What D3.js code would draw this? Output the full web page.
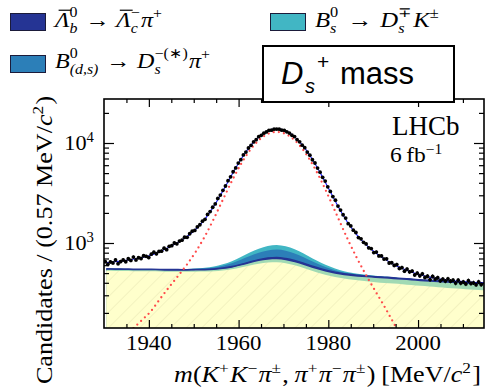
<!DOCTYPE html>
<html><head><meta charset="utf-8">
<script src="https://cdn.jsdelivr.net/npm/d3@7"></script>
<style>
html,body{margin:0;padding:0;background:#fff;}
svg{display:block;}
text{font-family:"Liberation Serif","Times New Roman",serif;fill:#000;}
</style></head><body>
<svg id="c" width="487" height="389"></svg>
<script>
// ---------------- DATA ----------------
const massGrid = [1930.5,1932.5,1934.5,1936.5,1938.5,1940.5,1942.5,1944.5,1946.5,1948.5,
  1950.5,1952.5,1954.5,1956.5,1958.5,1960.5,1962.5,1964.5,1966.5,1968.5,
  1970.5,1972.5,1974.5,1976.5,1978.5,1980.5,1982.5,1984.5,1986.5,1988.5,
  1990.5,1992.5,1994.5,1996.5,1998.5,2000.5,2002.5,2004.5,2006.5,2008.5,
  2010.5,2012.5,2014.5,2016.5];
// combinatorial background (yellow, hatched)
const combBkg = [527,526,524,523,521,521,520,517,517,516,
  517,518,522,532,547,569,596,621,638,642,
  627,599,563,525,493,468,448,434,423,414,
  406,399,393,387,380,373,367,361,355,350,
  345,340,336,332];
// other background (pale green)
const otherBkg = [12,12,12,12,12,12,12,12,12,12,
  13,14,15,16,19,25,31,38,43,46,
  45,43,41,38,37,36,36,36,38,40,
  41,42,42,41,42,42,43,45,46,47,
  47,48,48,49];
// Lambda_b -> Lambda_c pi
const lbBkg = [14,14,14,14,14,14,14,14,14,14,
  14,14,15,15,16,18,21,24,27,30,
  29,28,26,23,21,19,18,17,16,15,
  15,15,15,15,15,15,15,15,14,14,
  14,14,14,14];
// B0(d,s) -> Ds(*) pi
const b0Bkg = [0,0,0,0,0,0,1,2,3,5,
  8,12,18,30,45,67,92,116,135,142,
  135,116,92,67,45,30,18,12,8,5,
  3,2,1,0,0,0,0,0,0,0,
  0,0,0,0];
// Bs -> Ds K
const bsBkg = [0,0,0,0,0,0,0,1,2,3,
  5,8,12,20,30,45,62,78,90,95,
  90,78,63,47,35,25,17,12,9,7,
  5,4,3,2,1,0,0,0,0,0,
  0,0,0,0];
// Ds signal peak (red dotted)
const dsSignal = [81,97,116,140,170,209,276,361,467,610,
  823,1170,1754,2709,4160,6115,8411,10643,12294,12900,
  12294,10643,8398,6089,4115,2632,1651,1047,689,470,
  329,232,160,110,74,48,31,18,11,6.5,
  3.7,2.1,1.1,0.6];
// data (bins of 0.57 MeV starting at 1930)
const binLow = 1930, binWidth = 0.57;
const dataCounts = [651,612,647,632,676,621,652,677,650,696,
  669,724,677,713,700,746,735,716,773,809,
  781,823,829,887,858,927,940,1000,981,1046,
  1067,1142,1140,1237,1314,1337,1449,1522,1654,1723,
  1932,2063,2278,2459,2793,3016,3360,3717,4202,4584,
  5161,5629,6294,6805,7591,8110,8913,9488,10244,10797,
  11567,11938,12546,12905,13379,13423,13738,13781,13748,13432,
  13387,12933,12572,11960,11590,10826,10268,9507,8973,8119,
  7557,6803,6309,5608,5108,4539,4165,3649,3280,2915,
  2680,2338,2136,1917,1774,1561,1481,1345,1274,1134,
  1102,1015,978,895,879,802,812,743,743,691,
  694,631,635,596,609,557,568,523,549,515,
  524,479,499,470,492,453,465,431,464,436,
  449,419,436,416,438,415,425,397,424,397,
  408,390,420,394,400,383,409,384];
const xMajorTicks = [1940,1960,1980,2000];
const xMinorTicks = [1935,1945,1950,1955,1965,1970,1975,1985,1990,1995,2005,2010];
const yMajorTicks = [1e3,1e4];
const yMajorExp = ["3","4"];
const yMinorTicks = [200,300,400,500,600,700,800,900,2000,3000,4000,5000,6000,7000,8000,9000,20000];

// ---------------- LAYOUT ----------------
const SERIF = "'Liberation Serif','Times New Roman',serif";
const SANS = "'Liberation Sans',Arial,sans-serif";
const M = {l:104, r:484, t:99, b:328};
const svg = d3.select("#c");
const x = d3.scaleLinear().domain([1930, 2014.7]).range([M.l, M.r]);
const y = d3.scaleLog().domain([141.25, 27542]).range([M.b, M.t]);

const defs = svg.append("defs");
defs.append("clipPath").attr("id","plotclip").append("rect")
  .attr("x",M.l).attr("y",M.t).attr("width",M.r-M.l).attr("height",M.b-M.t);
const pat = defs.append("pattern").attr("id","hatch").attr("patternUnits","userSpaceOnUse")
  .attr("width",11).attr("height",11).attr("patternTransform","rotate(45)");
pat.append("rect").attr("width",11).attr("height",11).attr("fill","#ffffcc");
pat.append("line").attr("x1",0).attr("y1",0).attr("x2",0).attr("y2",11)
  .attr("stroke","#e4e2b0").attr("stroke-width",0.9);

const plot = svg.append("g").attr("clip-path","url(#plotclip)");

// stacked components
const layers = [combBkg, otherBkg, lbBkg, b0Bkg, bsBkg];
const fills = ["url(#hatch)", "#a1dab4", "#253494", "#2c7fb8", "#41b6c4"];
const cum = [];
layers.forEach((arr,i) => {
  cum.push(arr.map((v,j) => v + (i>0 ? cum[i-1][j] : 0)));
});
const curve = d3.curveMonotoneX;
for (let i = layers.length-1; i >= 0; i--) {
  const pts = massGrid.map((m,j) => ({m, v: cum[i][j]}));
  plot.append("path").datum(pts)
    .attr("d", d3.area().x(d=>x(d.m)).y0(M.b).y1(d=>y(d.v)).curve(curve))
    .attr("fill", fills[i]).attr("stroke","none");
}
// navy edge
plot.append("path").datum(massGrid.map((m,j)=>({m, v: cum[2][j]})))
  .attr("d", d3.line().x(d=>x(d.m)).y(d=>y(d.v)).curve(curve))
  .attr("fill","none").attr("stroke","#253494").attr("stroke-width",1.3);

// signal (red dotted)
plot.append("path").datum(massGrid.map((m,j)=>({m, v: dsSignal[j]})).filter(d=>d.v>60))
  .attr("d", d3.line().x(d=>x(d.m)).y(d=>y(d.v)).curve(curve))
  .attr("fill","none").attr("stroke","#ff4a4a").attr("stroke-width",2.3)
  .attr("stroke-linecap","round").attr("stroke-dasharray","0,5.2");

// total fit
const total = massGrid.map((m,j)=>({m, v: dsSignal[j] + cum[4][j]}));
plot.append("path").datum(total)
  .attr("d", d3.line().x(d=>x(d.m)).y(d=>y(d.v)).curve(curve))
  .attr("fill","none").attr("stroke","#1a1aff").attr("stroke-width",1.1);

// data points
const pts = dataCounts.map((c,i)=>({m: binLow + binWidth*(i+0.5), v: c}));
plot.append("g").selectAll("line").data(pts).join("line")
  .attr("x1",d=>x(d.m)).attr("x2",d=>x(d.m))
  .attr("y1",d=>y(d.v+Math.sqrt(d.v))).attr("y2",d=>y(d.v-Math.sqrt(d.v)))
  .attr("stroke","#000").attr("stroke-width",1);
plot.append("g").selectAll("circle").data(pts).join("circle")
  .attr("cx",d=>x(d.m)).attr("cy",d=>y(d.v)).attr("r",1.9).attr("fill","#000");

// frame
svg.append("rect").attr("x",M.l).attr("y",M.t).attr("width",M.r-M.l).attr("height",M.b-M.t)
  .attr("fill","none").attr("stroke","#000").attr("stroke-width",1.6);

// ticks
function ticks(axisFn, scale, vals, size, tr) {
  const g = svg.append("g").attr("transform", tr)
    .call(axisFn(scale).tickValues(vals).tickSizeInner(-size).tickSizeOuter(0).tickFormat(""));
  g.select(".domain").remove();
  g.selectAll(".tick line").attr("stroke","#000").attr("stroke-width",1.2);
  return g;
}
ticks(d3.axisBottom, x, xMajorTicks, 8, `translate(0,${M.b})`);
ticks(d3.axisBottom, x, xMinorTicks, 4, `translate(0,${M.b})`);
ticks(d3.axisTop, x, xMajorTicks, 8, `translate(0,${M.t})`);
ticks(d3.axisTop, x, xMinorTicks, 4, `translate(0,${M.t})`);
ticks(d3.axisLeft, y, yMajorTicks, 10, `translate(${M.l},0)`);
ticks(d3.axisLeft, y, yMinorTicks, 5, `translate(${M.l},0)`);
ticks(d3.axisRight, y, yMajorTicks, 10, `translate(${M.r},0)`);
ticks(d3.axisRight, y, yMinorTicks, 5, `translate(${M.r},0)`);

// x tick labels
svg.append("g").selectAll("text").data(xMajorTicks).join("text")
  .attr("transform",d=>`translate(${x(d)},${M.b+22}) scale(1.06,1)`).attr("text-anchor","middle")
  .attr("font-size",21.5).style("font-family",SERIF).text(d=>d);

// math text helper (stretch mimics the wider LaTeX font)
function mathLine(parent, items, size, stretch) {
  stretch = stretch || 1.12;
  const outer = parent.append("g");
  const g = outer.append("g").attr("transform",`scale(${stretch},1)`);
  let cx = 0;
  const ss = size*0.66;
  items.forEach(it => {
    if (it.sp !== undefined) { cx += it.sp; return; }
    if (it.t !== undefined) {
      const t = g.append("text").attr("x",cx).attr("y",0).attr("font-size",size)
        .attr("font-style", it.i ? "italic" : "normal").style("font-family",SERIF).text(it.t);
      const w = t.node().getComputedTextLength();
      if (it.over) g.append("line").attr("x1",cx+size*0.15).attr("x2",cx+w+size*0.08)
        .attr("y1",-size*0.78).attr("y2",-size*0.78).attr("stroke","#000").attr("stroke-width",size*0.055);
      cx += w;
    } else {
      let w = 0;
      const both = it.sup !== undefined && it.sub !== undefined;
      if (it.sup !== undefined) {
        const t = g.append("text").attr("x",cx).attr("y",-size*(both?0.47:0.40))
          .attr("font-size",ss).attr("font-style",it.supI?"italic":"normal").style("font-family",SERIF).text(it.sup);
        w = Math.max(w, t.node().getComputedTextLength());
      }
      if (it.sub !== undefined) {
        const t = g.append("text").attr("x",cx).attr("y",size*0.30)
          .attr("font-size",ss).attr("font-style",it.subI?"italic":"normal").style("font-family",SERIF).text(it.sub);
        w = Math.max(w, t.node().getComputedTextLength());
      }
      cx += w + size*0.05;
    }
  });
  return {g: outer, width: cx*stretch};
}

// y tick labels
yMajorTicks.forEach((v,i) => {
  const ml = mathLine(svg, [{t:"10"},{sup:yMajorExp[i]}], 21, 1.06);
  ml.g.attr("transform", `translate(${95-ml.width},${y(v)+7})`);
});

// x title
{
  const ml = mathLine(svg, [{t:"m",i:1},{t:"("},{t:"K",i:1},{sup:"+"},{t:"K",i:1},{sup:"−"},
    {t:"π",i:1},{sup:"±"},{t:","},{sp:5},{t:"π",i:1},{sup:"+"},{t:"π",i:1},{sup:"−"},{t:"π",i:1},{sup:"±"},
    {t:")"},{sp:5},{t:"[MeV/"},{t:"c",i:1},{sup:"2"},{t:"]"}], 22.5, 1.16);
  ml.g.attr("transform", `translate(${481-ml.width},382)`);
}
// y title
{
  const ml = mathLine(svg, [{t:"Candidates / (0.57 MeV/"},{t:"c",i:1},{sup:"2"},{t:")"}], 22.5, 1.16);
  ml.g.attr("transform", `translate(52,${240+ml.width/2}) rotate(-90)`);
}

// LHCb labels
svg.append("text").attr("x",392).attr("y",135).attr("font-size",27).style("font-family",SERIF).text("LHCb");
{
  const ml = mathLine(svg, [{t:"6"},{sp:4},{t:"fb"},{sup:"−1"}], 21, 1.12);
  ml.g.attr("transform","translate(390,162)");
}

// legend
const legend = svg.append("g");
function swatch(xx, yy, col) {
  legend.append("rect").attr("x",xx).attr("y",yy).attr("width",35).attr("height",17)
    .attr("fill",col).attr("stroke","#1b1b3a").attr("stroke-width",1);
}
swatch(10.5,13.5,"#253494");
swatch(10.5,55.5,"#2c7fb8");
swatch(270.5,13.5,"#41b6c4");
{
  const a = mathLine(legend, [{t:"Λ",i:1,over:1},{sup:"0",sub:"b",subI:1},{sp:6},{t:"→"},{sp:6},
    {t:"Λ",i:1,over:1},{sup:"−",sub:"c",subI:1},{t:"π",i:1},{sup:"+"}], 21.5, 1.12);
  a.g.attr("transform","translate(55,27)");
  const b = mathLine(legend, [{t:"B",i:1},{sup:"0",sub:"(d,s)",subI:1},{sp:6},{t:"→"},{sp:6},
    {t:"D",i:1},{sup:"−(∗)",sub:"s",subI:1},{t:"π",i:1},{sup:"+"}], 21.5, 1.12);
  b.g.attr("transform","translate(55,68)");
  const c = mathLine(legend, [{t:"B",i:1},{sup:"0",sub:"s",subI:1},{sp:7},{t:"→"},{sp:7},
    {t:"D",i:1},{sup:"∓",sub:"s",subI:1},{t:"K",i:1},{sup:"±"}], 21.5, 1.15);
  c.g.attr("transform","translate(315,27)");
}

// Ds+ mass box
svg.append("rect").attr("x",263).attr("y",46).attr("width",191).attr("height",56)
  .attr("fill","#fff").attr("stroke","#000").attr("stroke-width",2);
const bx = svg.append("g");
bx.append("text").attr("x",281).attr("y",84).attr("font-size",31).attr("font-style","italic")
  .style("font-family",SANS).text("D");
bx.append("text").attr("x",305).attr("y",93).attr("font-size",20).attr("font-style","italic")
  .style("font-family",SANS).text("s");
bx.append("text").attr("x",317).attr("y",69).attr("font-size",21)
  .style("font-family",SANS).text("+");
bx.append("text").attr("x",340).attr("y",84).attr("font-size",31)
  .style("font-family",SANS).text("mass");
</script>
</body></html>
